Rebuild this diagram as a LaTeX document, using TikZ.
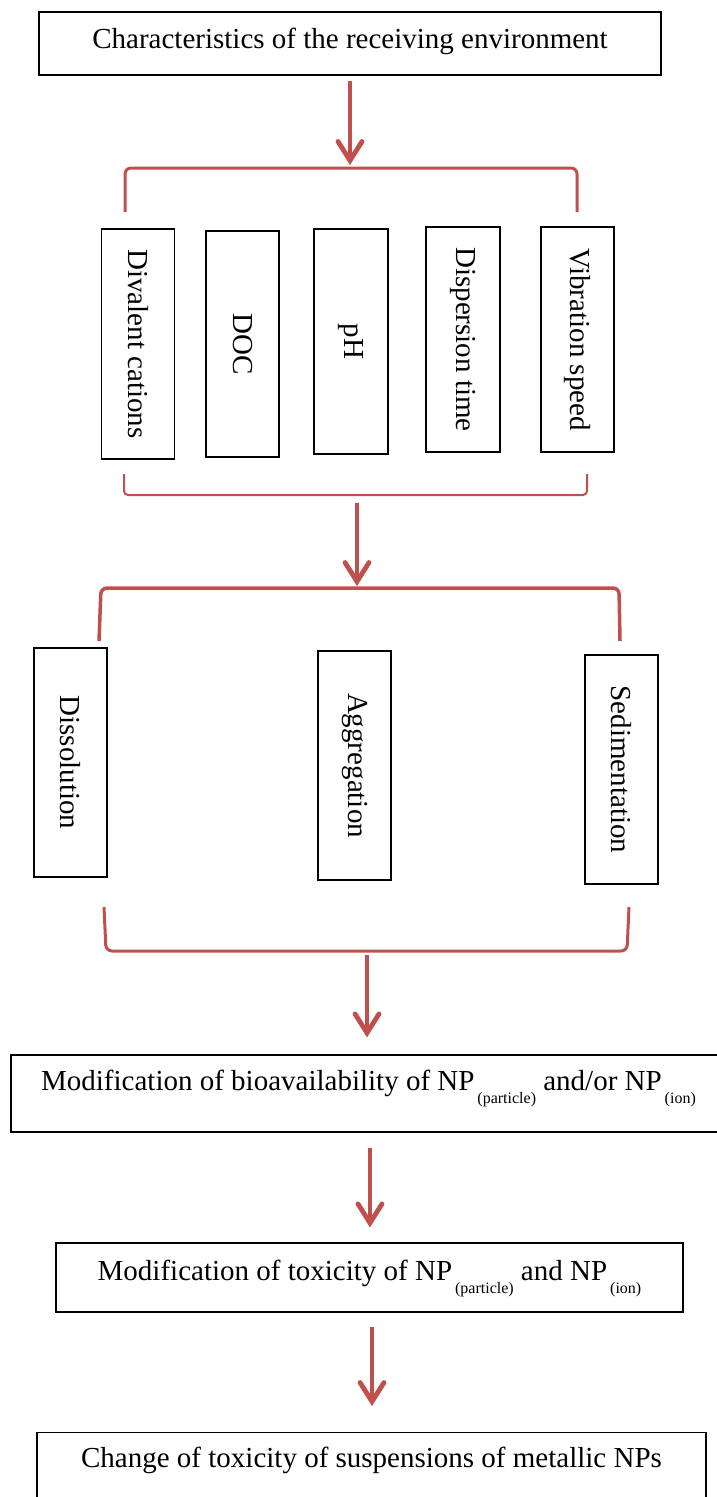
\documentclass[tikz,border=0pt]{standalone}
\usepackage{fontspec}
\setmainfont{Liberation Serif}
\usetikzlibrary{arrows.meta}
\definecolor{accent}{HTML}{C0504D}
\newcommand\bigfont{\fontsize{29}{34}\selectfont}
\newcommand\npsub[1]{\kern3pt\raisebox{-13pt}{\fontsize{16}{16}\selectfont(#1)}}
\begin{document}
\begin{tikzpicture}[x=1pt,y=-1pt,
  box/.style={draw, line width=1.2pt, inner sep=0pt, font=\bigfont, text height=20pt},
  vbox/.style={draw, line width=1.2pt, inner sep=0pt, font=\bigfont, rotate=-90, minimum height=73pt},
  arr/.style={draw=accent, line width=4.8pt, -{Straight Barb[length=19pt,width=24pt,line cap=round]}},
  brk/.style={draw=accent, line width=3pt, rounded corners=6pt},
]
\useasboundingbox (0,0) rectangle (717,1497);

% top box
\node[box, minimum width=622pt, minimum height=63pt, text depth=11pt] (env) at (350,43.5) {Characteristics of the receiving environment};

% factor boxes
\node[vbox, minimum width=230pt] (div) at (138,344) {Divalent cations};
\node[vbox, minimum width=226pt] (doc) at (242.5,344) {DOC};
\node[vbox, minimum width=225pt, minimum height=74pt] (ph) at (351,341.5) {pH};
\node[vbox, minimum width=225pt, minimum height=74pt] (disp) at (463,339.5) {Dispersion time};
\node[vbox, minimum width=225pt] (vib) at (577.5,339.5) {Vibration speed};

% process boxes
\node[vbox, minimum width=229pt] (dis) at (70.5,762.5) {Dissolution};
\node[vbox, minimum width=229pt] (agg) at (354.5,765.5) {Aggregation};
\node[vbox, minimum width=229pt] (sed) at (621.5,769.5) {Sedimentation};

% result boxes
\node[box, minimum width=715pt, minimum height=77pt, text depth=27pt] (bio) at (368.5,1093.5) {Modification of bioavailability of NP\npsub{particle} and/or NP\npsub{ion}};
\node[box, minimum width=627pt, minimum height=69pt, text depth=15pt] (tox) at (369.5,1277.5) {Modification of toxicity of NP\npsub{particle} and NP\npsub{ion}};
\node[box, minimum width=669pt, minimum height=90pt, text depth=40pt, anchor=north] (chg) at (371.5,1432) {Change of toxicity of suspensions of metallic NPs};

% brackets
\coordinate (b1m) at (350,168);
\coordinate (b2m) at (357,495);
\coordinate (b3m) at (357,588);
\coordinate (b4m) at (367,951);
\draw[brk] (125,212) -- (125,168) -- (577,168) -- (577,212);
\draw[brk, line width=2pt, rounded corners=4pt] (124,474) -- (124,495) -- (587,495) -- (587,474);
\draw[brk, line width=3.5pt] (99,641) -- (101,588) -- (619,588) -- (620,641);
\draw[brk] (104,907) -- (106,951) -- (627,951) -- (629,907);

% arrows
\draw[arr, shorten <=5pt, shorten >=3pt] (env.south -| b1m) -- (b1m);
\draw[arr, shorten <=8pt, shorten >=2pt] (b2m) -- (b3m);
\draw[arr, shorten <=4pt, shorten >=17pt] (b4m) -- (bio.north -| b4m);
\draw[arr, shorten <=15pt, shorten >=15pt] ([xshift=1.5pt]bio.south) -- ([xshift=0.5pt]tox.north);
\draw[arr, shorten <=14pt, shorten >=26pt] ([xshift=2.5pt]tox.south) -- ([xshift=0.5pt]chg.north);
\end{tikzpicture}
\end{document}
